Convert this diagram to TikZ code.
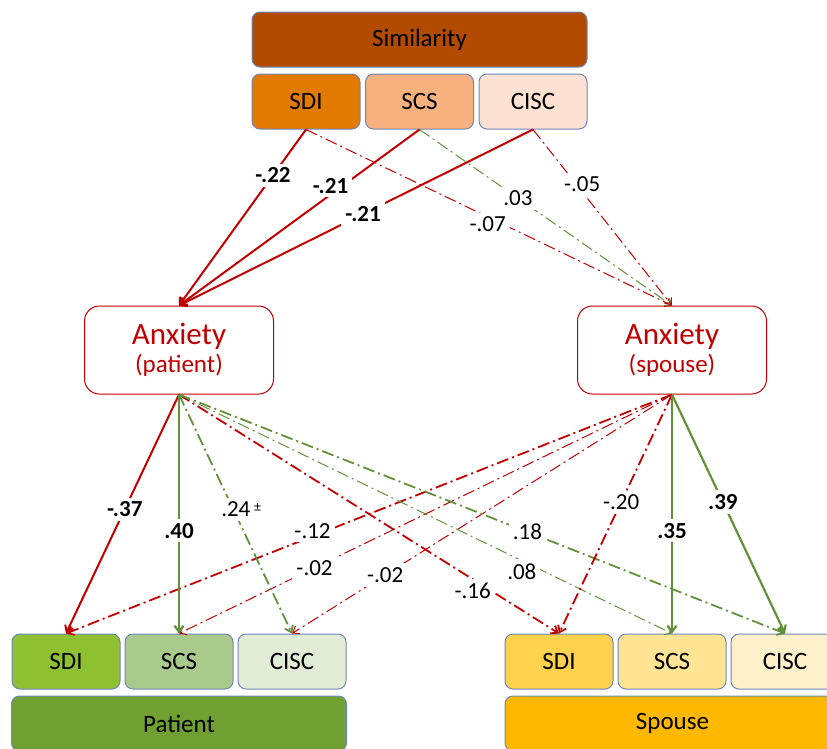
\documentclass[tikz,border=0pt]{standalone}
\usepackage{fontspec}
\setmainfont{Carlito}
\usetikzlibrary{arrows.meta}
\definecolor{rouge}{HTML}{C00000}
\definecolor{vert}{HTML}{62913A}
\definecolor{bordure}{HTML}{6F87B8}
\definecolor{cSimil}{HTML}{B24A00}
\definecolor{cSdiH}{HTML}{E27A00}
\definecolor{cScsH}{HTML}{F7B17F}
\definecolor{cCiscH}{HTML}{FDE2D4}
\definecolor{cPat}{HTML}{70A032}
\definecolor{cSdiP}{HTML}{8EC031}
\definecolor{cScsP}{HTML}{A9CA8B}
\definecolor{cCiscP}{HTML}{E2EBD6}
\definecolor{cConj}{HTML}{FFB800}
\definecolor{cSdiC}{HTML}{FFD24D}
\definecolor{cScsC}{HTML}{FFE493}
\definecolor{cCiscC}{HTML}{FFF0CC}
\begin{document}
\begin{tikzpicture}[x=1pt,y=-1pt,
  boite/.style={draw=bordure, line width=1pt, rounded corners=8pt, minimum width=108pt,
    minimum height=55pt, inner sep=0pt, font=\fontsize{25}{30}\selectfont},
  barre/.style={boite, minimum width=335pt},
  anx/.style={draw=rouge, fill=white, line width=1pt, rounded corners=15pt, minimum width=189pt,
    minimum height=88pt, align=center, text=rouge},
  fl/.style={-{Straight Barb[length=6pt,width=9pt]}},
  sneg/.style={fl, rouge, line width=2pt},
  spos/.style={fl, vert, line width=2.2pt},
  tiret/.style={fl, dash pattern=on 12pt off 4pt on 2pt off 4pt},
  nsr/.style={tiret, rouge, line width=1pt},
  nsrg/.style={tiret, rouge, line width=1.8pt},
  nsv/.style={tiret, vert, line width=1pt},
  nsvg/.style={tiret, vert, line width=1.8pt},
  coef/.style={fill=white, text=black, inner sep=4pt, font=\fontsize{23}{27}\selectfont},
  coefg/.style={coef, font=\fontsize{23}{27}\selectfont\bfseries}]
\useasboundingbox (0,0) rectangle (827,748);
\clip (0,0) rectangle (827,748);
% Similarite en haut
\node[barre, fill=cSimil] (simil) at (419.5,39.5) {Similarity};
\node[boite, fill=cSdiH] (sdiH) at (306,101.5) {SDI};
\node[boite, fill=cScsH] (scsH) at (419.5,101.5) {SCS};
\node[boite, fill=cCiscH] (ciscH) at (533,101.5) {CISC};
% Les deux anxietes
\node[anx] (anxP) at (179,350) {\fontsize{31}{34}\selectfont Anxiety\\[4pt]\fontsize{25}{30}\selectfont (patient)};
\node[anx] (anxC) at (672,350) {\fontsize{31}{34}\selectfont Anxiety\\[4pt]\fontsize{25}{30}\selectfont (spouse)};
% Patient en bas a gauche
\node[boite, fill=cSdiP] (sdiP) at (66,661.5) {SDI};
\node[boite, fill=cScsP] (scsP) at (179,661.5) {SCS};
\node[boite, fill=cCiscP] (ciscP) at (292,661.5) {CISC};
\node[barre, fill=cPat] (patient) at (179,723.5) {Patient};
% Conjoint en bas a droite
\node[boite, fill=cSdiC] (sdiC) at (559,661.5) {SDI};
\node[boite, fill=cScsC] (scsC) at (672,661.5) {SCS};
\node[boite, fill=cCiscC] (ciscC) at (785,661.5) {CISC};
\node[barre, fill=cConj] (conjoint) at (672.5,723.5) {Spouse};

% Similarite -> anxiete
\draw[nsr] (sdiH.south) -- node[coef,pos=.54,xshift=-16pt]{-.07} (anxC.north);
\draw[nsv] (scsH.south) -- node[coef,pos=.39]{.03} (anxC.north);
\draw[nsr] (ciscH.south) -- node[coef,pos=.31,xshift=6pt]{-.05} (anxC.north);
\draw[sneg] (sdiH.south) -- node[coefg,pos=.26]{-.22} (anxP.north);
\draw[sneg] (scsH.south) -- node[coefg,pos=.32,xshift=-12pt]{-.21} (anxP.north);
\draw[sneg] (ciscH.south) -- node[coefg,pos=.48]{-.21} (anxP.north);

% Anxiete -> dimensions du couple
\draw[nsrg] (anxC.south) -- node[coef,pos=.57,xshift=-14pt]{-.12} (sdiP.north);
\draw[nsr] (anxC.south) -- node[coef,pos=.725]{-.02} (scsP.north);
\draw[nsr] (anxC.south) -- node[coef,pos=.755]{-.02} (ciscP.north);
\draw[nsrg] (anxP.south) -- node[coef,pos=.82,xshift=-18pt]{-.16} (sdiC.north);
\draw[nsv] (anxP.south) -- node[coef,pos=.74,xshift=-22pt]{.08} (scsC.north);
\draw[nsvg] (anxP.south) -- node[coef,pos=.575]{.18} (ciscC.north);
\draw[nsvg] (anxP.south) -- node[coef,pos=.48,xshift=8pt]{.24\,\raisebox{5pt}{\fontsize{14}{14}\selectfont ±}} (ciscP.north);
\draw[nsrg] (anxC.south) -- node[coef,pos=.45]{-.20} (sdiC.north);
\draw[sneg] (anxP.south) -- node[coefg,pos=.48]{-.37} (sdiP.north);
\draw[spos] (anxP.south) -- node[coefg,pos=.57]{.40} (scsP.north);
\draw[spos] (anxC.south) -- node[coefg,pos=.57]{.35} (scsC.north);
\draw[spos] (anxC.south) -- node[coefg,pos=.45]{.39} (ciscC.north);
\end{tikzpicture}
\end{document}
